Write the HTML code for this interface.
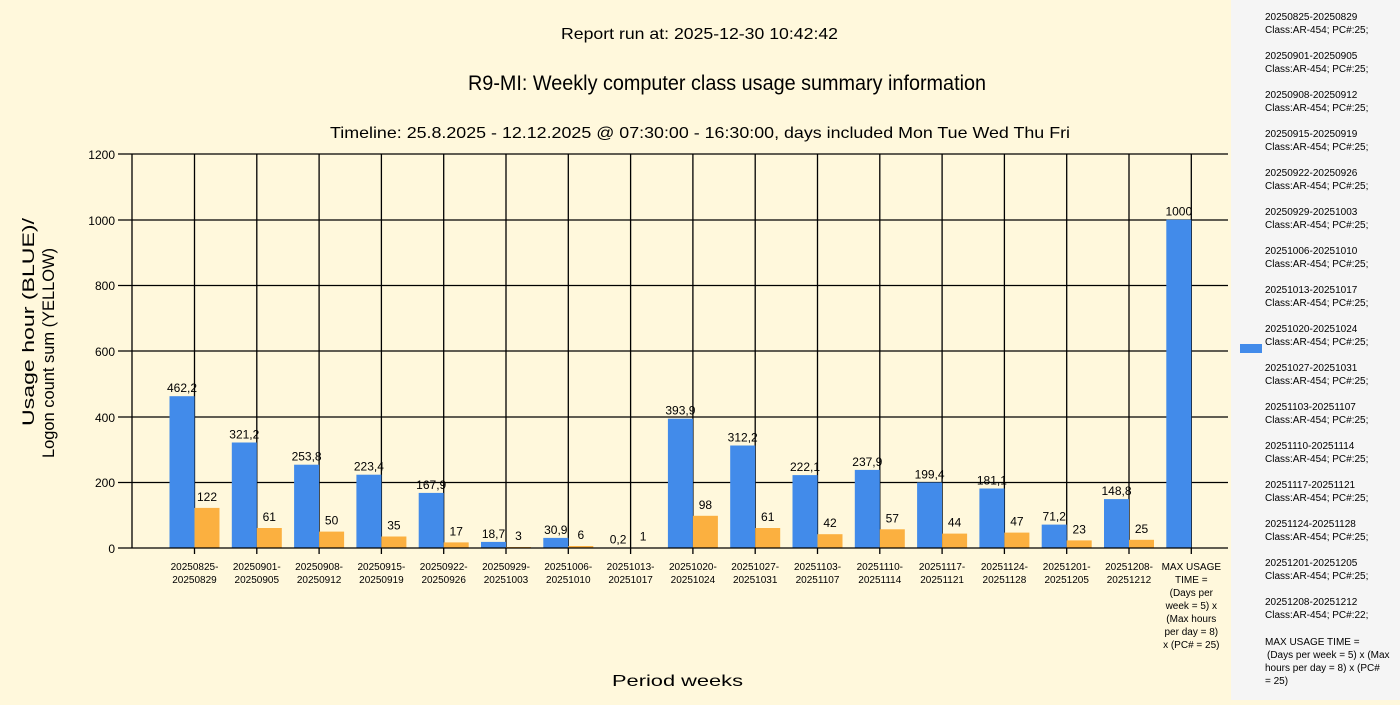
<!DOCTYPE html>
<html><head><meta charset="utf-8"><style>
body{margin:0;width:1400px;height:700px;overflow:hidden;background:#fff8dc;font-family:"Liberation Sans",sans-serif}
</style></head><body>
<svg width="1400" height="700" xmlns="http://www.w3.org/2000/svg" font-family="Liberation Sans, sans-serif">
<rect width="1400" height="700" fill="#fff8dc"/>
<rect x="1231" y="0" width="169" height="700" fill="#f5f5f5"/>
<text x="561" y="39" font-size="16" textLength="277" lengthAdjust="spacingAndGlyphs">Report run at: 2025-12-30 10:42:42</text>
<text x="468" y="90" font-size="21" textLength="518" lengthAdjust="spacingAndGlyphs">R9-MI: Weekly computer class usage summary information</text>
<text x="330" y="138" font-size="16" textLength="740" lengthAdjust="spacingAndGlyphs">Timeline:  25.8.2025  - 12.12.2025  @  07:30:00 -  16:30:00, days included Mon Tue Wed Thu Fri</text>
<text x="612" y="686" font-size="16" textLength="131" lengthAdjust="spacingAndGlyphs">Period weeks</text>
<g transform="translate(34,426) rotate(-90)"><text x="0" y="0" font-size="17" textLength="208" lengthAdjust="spacingAndGlyphs">Usage hour (BLUE)/</text></g>
<g transform="translate(54,458) rotate(-90)"><text x="0" y="0" font-size="17" textLength="210" lengthAdjust="spacingAndGlyphs">Logon count sum (YELLOW)</text></g>
<g stroke="#000" stroke-width="1.3">
<line x1="118" y1="154" x2="1228" y2="154"/>
<line x1="118" y1="220" x2="1228" y2="220"/>
<line x1="118" y1="285.5" x2="1228" y2="285.5"/>
<line x1="118" y1="351" x2="1228" y2="351"/>
<line x1="118" y1="417" x2="1228" y2="417"/>
<line x1="118" y1="482.5" x2="1228" y2="482.5"/>
<line x1="132" y1="154" x2="132" y2="548"/>
<path d="M194.5 154V554M256.8 154V554M319.1 154V554M381.4 154V554M443.7 154V554M506 154V554M568.3 154V554M630.6 154V554M692.9 154V554M755.2 154V554M817.5 154V554M879.8 154V554M942.1 154V554M1004.4 154V554M1066.7 154V554M1129 154V554M1191.3 154V554"/>
</g>
<g font-size="12" text-anchor="end" fill="#000">
<text x="115" y="159">1200</text><text x="115" y="225">1000</text><text x="115" y="290">800</text><text x="115" y="356">600</text><text x="115" y="422">400</text><text x="115" y="487">200</text><text x="115" y="553">0</text>
</g>
<g fill="#428bea">
<rect x="169.5" y="396.2" width="25" height="151.8"/>
<rect x="231.8" y="442.5" width="25" height="105.5"/>
<rect x="294.1" y="464.7" width="25" height="83.3"/>
<rect x="356.4" y="474.7" width="25" height="73.3"/>
<rect x="418.7" y="492.9" width="25" height="55.1"/>
<rect x="481" y="541.9" width="25" height="6.1"/>
<rect x="543.3" y="537.9" width="25" height="10.1"/>
<rect x="605.6" y="547.5" width="25" height="0.5"/>
<rect x="667.9" y="418.7" width="25" height="129.3"/>
<rect x="730.2" y="445.5" width="25" height="102.5"/>
<rect x="792.5" y="475.1" width="25" height="72.9"/>
<rect x="854.8" y="469.9" width="25" height="78.1"/>
<rect x="917.1" y="482.5" width="25" height="65.5"/>
<rect x="979.4" y="488.5" width="25" height="59.5"/>
<rect x="1041.7" y="524.6" width="25" height="23.4"/>
<rect x="1104" y="499.1" width="25" height="48.9"/>
<rect x="1166.3" y="219.7" width="25" height="328.3"/>
</g>
<g fill="#fbb040">
<rect x="194.5" y="507.9" width="25" height="40.1"/>
<rect x="256.8" y="528" width="25" height="20"/>
<rect x="319.1" y="531.6" width="25" height="16.4"/>
<rect x="381.4" y="536.5" width="25" height="11.5"/>
<rect x="443.7" y="542.4" width="25" height="5.6"/>
<rect x="506" y="547" width="25" height="1"/>
<rect x="568.3" y="546" width="25" height="2"/>
<rect x="630.6" y="547.5" width="25" height="0.5"/>
<rect x="692.9" y="515.8" width="25" height="32.2"/>
<rect x="755.2" y="528" width="25" height="20"/>
<rect x="817.5" y="534.2" width="25" height="13.8"/>
<rect x="879.8" y="529.3" width="25" height="18.7"/>
<rect x="942.1" y="533.6" width="25" height="14.4"/>
<rect x="1004.4" y="532.6" width="25" height="15.4"/>
<rect x="1066.7" y="540.4" width="25" height="7.6"/>
<rect x="1129" y="539.8" width="25" height="8.2"/>
</g>
<g font-size="12" text-anchor="middle" fill="#000">
<text x="182" y="392">462,2</text><text x="244.3" y="438.5">321,2</text><text x="306.6" y="460.7">253,8</text><text x="368.9" y="470.7">223,4</text><text x="431.2" y="488.9">167,9</text><text x="493.5" y="537.9">18,7</text><text x="555.8" y="533.9">30,9</text><text x="618.1" y="543.5">0,2</text><text x="680.4" y="414.7">393,9</text><text x="742.7" y="441.5">312,2</text><text x="805" y="471.1">222,1</text><text x="867.3" y="465.9">237,9</text><text x="929.6" y="478.5">199,4</text><text x="991.9" y="484.5">181,1</text><text x="1054.2" y="520.6">71,2</text><text x="1116.5" y="495.1">148,8</text><text x="1178.8" y="215.7">1000</text>
<text x="207" y="501">122</text><text x="269.3" y="521">61</text><text x="331.6" y="524.6">50</text><text x="393.9" y="529.5">35</text><text x="456.2" y="535.4">17</text><text x="518.5" y="540">3</text><text x="580.8" y="539">6</text><text x="643.1" y="540.5">1</text><text x="705.4" y="508.8">98</text><text x="767.7" y="521">61</text><text x="830" y="527.2">42</text><text x="892.3" y="522.3">57</text><text x="954.6" y="526.6">44</text><text x="1016.9" y="525.6">47</text><text x="1079.2" y="533.4">23</text><text x="1141.5" y="532.8">25</text>
</g>
<line x1="118" y1="548" x2="1228" y2="548" stroke="#000" stroke-width="1.3"/>
<g font-size="10" text-anchor="middle" fill="#000">
<text x="194.5" y="570">20250825-</text><text x="194.5" y="583">20250829</text>
<text x="256.8" y="570">20250901-</text><text x="256.8" y="583">20250905</text>
<text x="319.1" y="570">20250908-</text><text x="319.1" y="583">20250912</text>
<text x="381.4" y="570">20250915-</text><text x="381.4" y="583">20250919</text>
<text x="443.7" y="570">20250922-</text><text x="443.7" y="583">20250926</text>
<text x="506" y="570">20250929-</text><text x="506" y="583">20251003</text>
<text x="568.3" y="570">20251006-</text><text x="568.3" y="583">20251010</text>
<text x="630.6" y="570">20251013-</text><text x="630.6" y="583">20251017</text>
<text x="692.9" y="570">20251020-</text><text x="692.9" y="583">20251024</text>
<text x="755.2" y="570">20251027-</text><text x="755.2" y="583">20251031</text>
<text x="817.5" y="570">20251103-</text><text x="817.5" y="583">20251107</text>
<text x="879.8" y="570">20251110-</text><text x="879.8" y="583">20251114</text>
<text x="942.1" y="570">20251117-</text><text x="942.1" y="583">20251121</text>
<text x="1004.4" y="570">20251124-</text><text x="1004.4" y="583">20251128</text>
<text x="1066.7" y="570">20251201-</text><text x="1066.7" y="583">20251205</text>
<text x="1129" y="570">20251208-</text><text x="1129" y="583">20251212</text>
<text x="1191.3" y="570">MAX USAGE</text><text x="1191.3" y="583">TIME =</text><text x="1191.3" y="596">(Days per</text><text x="1191.3" y="609">week = 5) x</text><text x="1191.3" y="622">(Max hours</text><text x="1191.3" y="635">per day = 8)</text><text x="1191.3" y="648">x (PC# = 25)</text>
</g>
<rect x="1240" y="344" width="22" height="9" fill="#428bea"/>
<g font-size="10" fill="#000">
<text x="1265" y="20">20250825-20250829</text><text x="1265" y="33">Class:AR-454; PC#:25;</text>
<text x="1265" y="59">20250901-20250905</text><text x="1265" y="72">Class:AR-454; PC#:25;</text>
<text x="1265" y="98">20250908-20250912</text><text x="1265" y="111">Class:AR-454; PC#:25;</text>
<text x="1265" y="137">20250915-20250919</text><text x="1265" y="150">Class:AR-454; PC#:25;</text>
<text x="1265" y="176">20250922-20250926</text><text x="1265" y="189">Class:AR-454; PC#:25;</text>
<text x="1265" y="215">20250929-20251003</text><text x="1265" y="228">Class:AR-454; PC#:25;</text>
<text x="1265" y="254">20251006-20251010</text><text x="1265" y="267">Class:AR-454; PC#:25;</text>
<text x="1265" y="293">20251013-20251017</text><text x="1265" y="306">Class:AR-454; PC#:25;</text>
<text x="1265" y="332">20251020-20251024</text><text x="1265" y="345">Class:AR-454; PC#:25;</text>
<text x="1265" y="371">20251027-20251031</text><text x="1265" y="384">Class:AR-454; PC#:25;</text>
<text x="1265" y="410">20251103-20251107</text><text x="1265" y="423">Class:AR-454; PC#:25;</text>
<text x="1265" y="449">20251110-20251114</text><text x="1265" y="462">Class:AR-454; PC#:25;</text>
<text x="1265" y="488">20251117-20251121</text><text x="1265" y="501">Class:AR-454; PC#:25;</text>
<text x="1265" y="527">20251124-20251128</text><text x="1265" y="540">Class:AR-454; PC#:25;</text>
<text x="1265" y="566">20251201-20251205</text><text x="1265" y="579">Class:AR-454; PC#:25;</text>
<text x="1265" y="605">20251208-20251212</text><text x="1265" y="618">Class:AR-454; PC#:22;</text>
<text x="1265" y="645">MAX USAGE TIME =</text><text x="1267" y="658">(Days per week = 5) x (Max</text><text x="1265" y="671">hours per day = 8) x (PC#</text><text x="1265" y="684">= 25)</text>
</g>
</svg>
</body></html>
